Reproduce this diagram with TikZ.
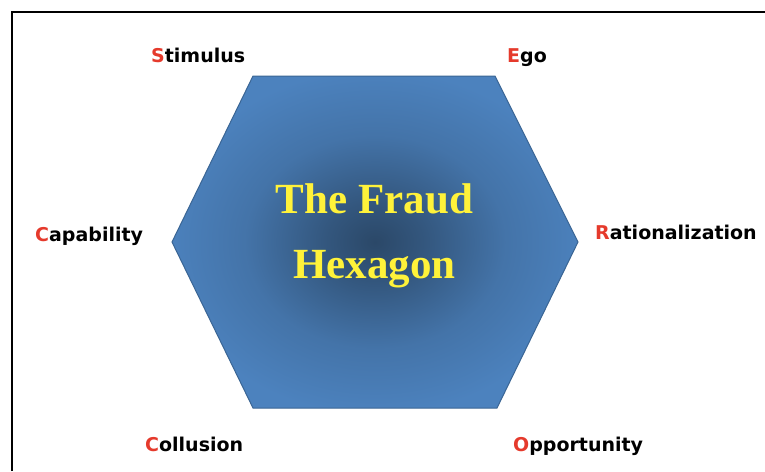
\documentclass[tikz,border=0pt]{standalone}
\usepackage{fontspec}
\setmainfont{Liberation Serif}
\newfontfamily\lblfont{DejaVu Sans}
\usetikzlibrary{positioning}

\definecolor{hexblue}{HTML}{4C82BE}
\definecolor{hexdark}{HTML}{2B4868}
\definecolor{hexedge}{HTML}{3A6594}
\definecolor{lblred}{HTML}{E53A2C}
\definecolor{ttlyellow}{HTML}{FFF23A}
\pgfdeclareradialshading{hexglow}{\pgfpoint{0bp}{0bp}}{%
  color(0bp)=(hexdark); color(6bp)=(hexdark!75!hexblue);
  color(16bp)=(hexdark!25!hexblue); color(26bp)=(hexblue); color(50bp)=(hexblue)}

\begin{document}
\begin{tikzpicture}[x=1pt, y=-1pt,
  lbl/.style={anchor=base west, inner sep=0pt,
              font=\lblfont\bfseries\fontsize{19}{23}\selectfont},
  ttl/.style={align=center, inner sep=0pt, text=ttlyellow,
              font=\bfseries\fontsize{43}{65}\selectfont},
  hexfill/.style={draw=hexedge, line width=1pt, shading=hexglow}]
  \useasboundingbox (0,0) rectangle (765,471);
  % frame (only the left and top sides are in view)
  \coordinate (fb) at (12,471);
  \coordinate (fc) at (12,12);
  \coordinate (fr) at (765,12);
  \draw[line width=2pt] (fb) -- (fc) -- (fr);
  % the hexagon
  \coordinate (tl) at (253,76);
  \coordinate (tr) at (495,76);
  \coordinate (r) at (578,242);
  \coordinate (br) at (497,408);
  \coordinate (bl) at (253,408);
  \coordinate (l) at (172,242);
  \path[hexfill] (tl) -- (tr) -- (r) -- (br) -- (bl) -- (l) -- cycle;
  \node[ttl] (t) at (374.5,236) {The Fraud\\Hexagon};
  % the six factors
  \node[lbl] (s) at (151,62) {\textcolor{lblred}{S}timulus};
  \node[lbl] (e) at (507,62) {\textcolor{lblred}{E}go};
  \node[lbl] (c) at (35,241) {\textcolor{lblred}{C}apability};
  \node[lbl] (ra) at (595,239) {\textcolor{lblred}{R}ationalization};
  \node[lbl] (co) at (145,451) {\textcolor{lblred}{C}ollusion};
  \node[lbl] (o) at (513,451) {\textcolor{lblred}{O}pportunity};
\end{tikzpicture}
\end{document}
